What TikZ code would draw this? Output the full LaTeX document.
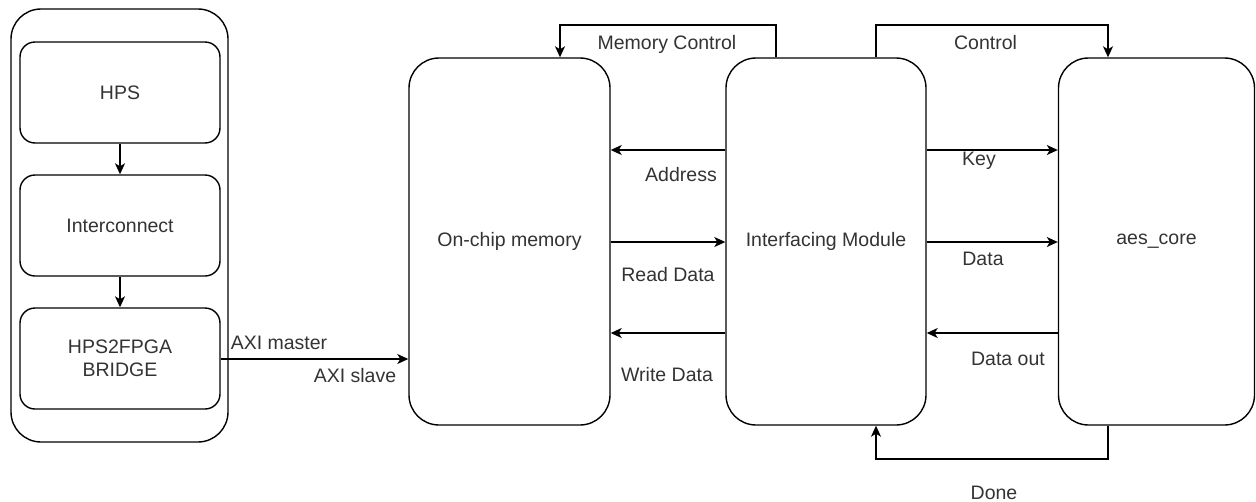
\documentclass[tikz,border=0pt]{standalone}
\usepackage{fontspec}
\setmainfont{Liberation Sans}
\usetikzlibrary{arrows.meta}
\definecolor{txt}{HTML}{333333}
\tikzset{
  blk/.style={draw=black, line width=1.4pt, fill=white, minimum width=#1, inner sep=0pt,
              text=txt, font=\fontsize{19.5}{23}\selectfont, align=center},
  lbl/.style={inner sep=0pt, text=txt, font=\fontsize{19.5}{23}\selectfont,
              text height=14pt, text depth=0pt},
  arr/.style={draw=black, line width=1.4pt, -{Stealth[length=11pt,width=10pt,inset=3pt]}},
  wire/.style={draw=black, line width=1.4pt}
}
\begin{document}
\begin{tikzpicture}[x=1pt,y=-1pt]
  \useasboundingbox[fill=white] (0,0) rectangle (1256,501);

  % HPS side
  \node[blk=217pt, minimum height=433pt, rounded corners=30pt] (outer) at (119.5,225.5) {};
  \node[blk=200pt, minimum height=101pt, rounded corners=15pt] (hps) at (120,92.5) {HPS};
  \node[blk=200pt, minimum height=101pt, rounded corners=15pt] (inter) at (120,225.5) {Interconnect};
  \node[blk=200pt, minimum height=101pt, rounded corners=15pt] (bridge) at (120,358.5) {HPS2FPGA\\BRIDGE};

  % FPGA side
  \node[blk=201pt, minimum height=367pt, rounded corners=30pt] (mem) at (509.5,241.5) {On-chip memory};
  \node[blk=200pt, minimum height=367pt, rounded corners=30pt] (ifm) at (826,241.5) {Interfacing Module};
  \node[blk=196pt, minimum height=367pt, rounded corners=30pt] (aes) at (1156.5,241.5) {aes\_core};

  % HPS internal links
  \draw[arr] (hps) -- (inter);
  \draw[arr] (inter) -- (bridge);
  \draw[arr] (bridge.east |- 0,359) -- (mem.west |- 0,359);

  % memory <-> interfacing module
  \draw[arr] (ifm.west |- 0,150) -- (mem.east |- 0,150);
  \draw[arr] (mem.east |- 0,242) -- (ifm.west |- 0,242);
  \draw[arr] (ifm.west |- 0,333) -- (mem.east |- 0,333);

  % interfacing module <-> aes_core
  \draw[arr] (ifm.east |- 0,150) -- (aes.west |- 0,150);
  \draw[arr] (ifm.east |- 0,242) -- (aes.west |- 0,242);
  \draw[arr] (aes.west |- 0,333) -- (ifm.east |- 0,333);

  % control loops
  \coordinate (mc1) at (776,25);
  \coordinate (mc2) at (560,25);
  \draw[arr] (ifm.north -| mc1) -- (mc1) -- (mc2) -- (mem.north -| mc2);
  \coordinate (c1) at (876,25);
  \coordinate (c2) at (1108,25);
  \draw[arr] (ifm.north -| c1) -- (c1) -- (c2) -- (aes.north -| c2);
  \coordinate (d1) at (1108,459);
  \coordinate (d2) at (876,459);
  \draw[arr] (aes.south -| d1) -- (d1) -- (d2) -- (ifm.south -| d2);

  % labels
  \node[lbl] (laxim) at (279,342) {AXI master};
  \node[lbl] (laxis) at (355,375) {AXI slave};
  \node[lbl] (lmc) at (667,42) {Memory Control};
  \node[lbl] (lctl) at (985.5,42) {Control};
  \node[lbl] (ladr) at (681,174) {Address};
  \node[lbl] (lrd) at (668,274) {Read Data};
  \node[lbl] (lwd) at (667,374) {Write Data};
  \node[lbl] (lkey) at (979,158) {Key};
  \node[lbl] (ldat) at (983,258) {Data};
  \node[lbl] (ldo) at (1008,358) {Data out};
  \node[lbl] (ldone) at (994,492) {Done};
\end{tikzpicture}
\end{document}
